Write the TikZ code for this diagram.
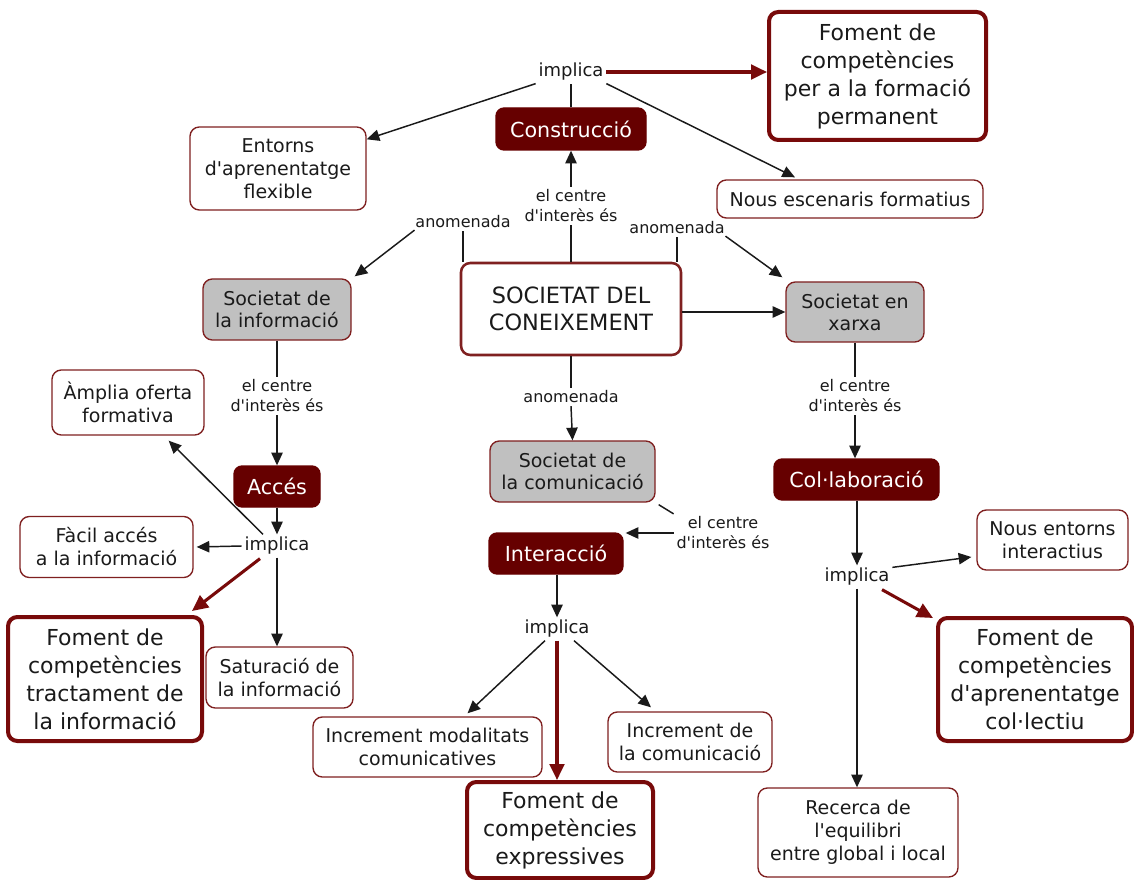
\documentclass[tikz,border=0pt]{standalone}
\usepackage{fontspec}
\setmainfont{DejaVu Sans}
\usetikzlibrary{arrows.meta,calc}
\definecolor{bordc}{HTML}{7F2020}
\definecolor{darkc}{HTML}{660000}
\definecolor{grayc}{HTML}{C0C0C0}
\definecolor{redc}{HTML}{780A0A}
\definecolor{inkc}{HTML}{1A1A1A}
\newcommand{\ap}{\textquotesingle}
\tikzset{
  sz/.style 2 args={minimum width=#1*0.75pt, minimum height=#2*0.75pt},
  concept/.style={draw=bordc, line width=1pt, rounded corners=7pt, fill=white,
    align=center, inner sep=0pt, text=inkc,
    font=\fontsize{14.25}{17.25}\selectfont},
  graybox/.style={concept, fill=grayc, font=\fontsize{14.25}{16.5}\selectfont},
  darkbox/.style={concept, fill=darkc, draw=darkc, text=white, rounded corners=6pt,
    font=\fontsize{15.5}{18}\selectfont},
  keybox/.style={concept, line width=3pt, draw=redc,
    font=\fontsize{16.5}{21}\selectfont},
  mainbox/.style={concept, line width=1.9pt,
    font=\fontsize{16.8}{20.2}\selectfont},
  phrase/.style={align=center, inner sep=2pt, text=inkc,
    font=\fontsize{12}{15}\selectfont},
  impl/.style={phrase, font=\fontsize{13.5}{16}\selectfont},
  link/.style={draw=inkc, line width=1.1pt},
  arr/.style={link, -{Triangle[length=9.5pt,width=8.5pt]}},
  redarr/.style={draw=redc, line width=2.3pt, -{Triangle[length=12pt,width=11pt]}},
}
\begin{document}
\begin{tikzpicture}[x=0.75pt, y=-0.75pt]
\useasboundingbox[fill=white] (0,0) rectangle (1134,880);

% concepts
\node[mainbox, sz={220}{92}] (soc) at (571,309) {SOCIETAT DEL\\CONEIXEMENT};
\node[darkbox, sz={150}{42}] (constr) at (571,129) {Construcció};
\node[keybox, sz={217}{128}] (fomPerm) at (877.5,76) {Foment de\\competències\\per a la formació\\permanent};
\node[concept, sz={266}{38}] (nousEsc) at (850,199) {Nous escenaris formatius};
\node[concept, sz={176}{83}] (entorns) at (278,168.5) {Entorns\\d\ap aprenentatge\\flexible};
\node[graybox, sz={148}{61}] (sinfo) at (277,309.5) {Societat de\\la informació};
\node[graybox, sz={138}{60}] (sxarxa) at (855,312) {Societat en\\xarxa};
\node[graybox, sz={165}{61}] (scom) at (572.5,471.5) {Societat de\\la comunicació};
\node[darkbox, sz={86}{41}] (acces) at (277,486.5) {Accés};
\node[darkbox, sz={134}{41}] (inter) at (556,553.5) {Interacció};
\node[darkbox, sz={165}{41}] (colab) at (856.5,479.5) {Col·laboració};
\node[concept, sz={152}{65}] (ampl) at (128,402.5) {Àmplia oferta\\formativa};
\node[concept, sz={173}{61}] (facil) at (106.5,547) {Fàcil accés\\a la informació};
\node[keybox, sz={194}{124}] (fomTr) at (105,679) {Foment de\\competències\\tractament de\\la informació};
\node[concept, sz={147}{61}] (satur) at (279.5,677.5) {Saturació de\\la informació};
\node[concept, sz={229}{60}] (incMod) at (427.5,747) {Increment modalitats\\comunicatives};
\node[concept, sz={164}{60}] (incCom) at (690,742) {Increment de\\la comunicació};
\node[keybox, sz={186}{96}] (fomExp) at (560,830) {Foment de\\competències\\expressives};
\node[concept, sz={151}{60}] (nousEnt) at (1052.5,540) {Nous entorns\\interactius};
\node[keybox, sz={194}{123}] (fomCol) at (1035,679.5) {Foment de\\competències\\d\ap aprenentatge\\col·lectiu};
\node[concept, sz={200}{89}] (recerca) at (858,832.5) {Recerca de\\l\ap equilibri\\entre global i local};

% linking phrases
\node[impl] (imp1) at (571,72) {implica};
\node[phrase] (ecTop) at (571,206) {el centre\\d\ap interès és};
\node[phrase] (anL) at (463,222) {anomenada};
\node[phrase] (anR) at (677,228) {anomenada};
\node[phrase] (ecL) at (277,396) {el centre\\d\ap interès és};
\node[impl] (impL) at (277,546) {implica};
\node[phrase] (anC) at (571,397) {anomenada};
\node[phrase] (ecC) at (723,533) {el centre\\d\ap interès és};
\node[impl] (impC) at (557,629) {implica};
\node[phrase] (ecR) at (855,396) {el centre\\d\ap interès és};
\node[impl] (impR) at (857,577) {implica};

% Construcció branch
\draw[link] (constr.north) -- (imp1.south);
\draw[redarr] (imp1.east) -- (imp1.east -| fomPerm.west);
\draw[arr] (imp1.south west) -- (entorns);
\draw[arr] (imp1.south east) -- ($(nousEsc.north)+(-55,-2)$);
\draw[link] (soc.north) -- (ecTop.south);
\draw[arr] (ecTop.north) -- (constr.south);

% societat branches
\draw[link] (soc.north -| anL) -- (anL.south);
\draw[arr] ($(anL.south west)+(2,-1)$) -- ($(sinfo.north east)+(3,-2)$);
\draw[link] (soc.north -| anR) -- (anR.south);
\draw[arr] ($(anR.south east)+(-2,-1)$) -- ($(sxarxa.north west)+(-3,-4)$);
\draw[arr] (soc.east |- sxarxa) -- (sxarxa.west);
\draw[link] (soc.south) -- (anC.north);
\draw[arr] (anC.south) -- (scom.north);

% informació branch
\draw[link] (sinfo.south) -- (sinfo.south |- ecL.north);
\draw[arr] (ecL.south) -- (acces.north);
\draw[arr] (acces.south) -- (impL.north);
\draw[arr] ($(impL.north)+(-14,0)$) -- ($(ampl.south east)+(-36,5)$);
\draw[arr] (impL.west) -- ($(facil.east)+(3,0)$);
\draw[redarr] ($(impL.south)+(-17,1)$) -- ($(fomTr.north east)+(-12,-4)$);
\draw[arr] (impL.south) -- (impL.south |- satur.north);

% comunicació branch
\draw[link] ($(scom.south east)+(3,2)$) -- (ecC.north west);
\draw[arr] (ecC.west) -- ($(ecC.west -| inter.east)+(2,0)$);
\draw[arr] (inter.south -| impC) -- (impC.north);
\draw[arr] ($(impC.south)+(-12,0)$) -- ($(incMod.north)+(40,-3)$);
\draw[redarr] (impC.south) -- (impC.south |- fomExp.north);
\draw[arr] ($(impC.south)+(17,0)$) -- ($(incCom.north)+(-39,-4)$);

% xarxa branch
\draw[link] (sxarxa.south) -- (ecR.north);
\draw[arr] (ecR.south) -- (ecR.south |- colab.north);
\draw[arr] (colab.south -| impR) -- (impR.north);
\draw[arr] ($(impR.north east)+(0,2)$) -- ($(nousEnt.west)+(-5,17)$);
\draw[redarr] ($(impR.south)+(25,1)$) -- ($(fomCol.north west)+(-3,2)$);
\draw[arr] (impR.south) -- (impR.south |- recerca.north);
\end{tikzpicture}
\end{document}
